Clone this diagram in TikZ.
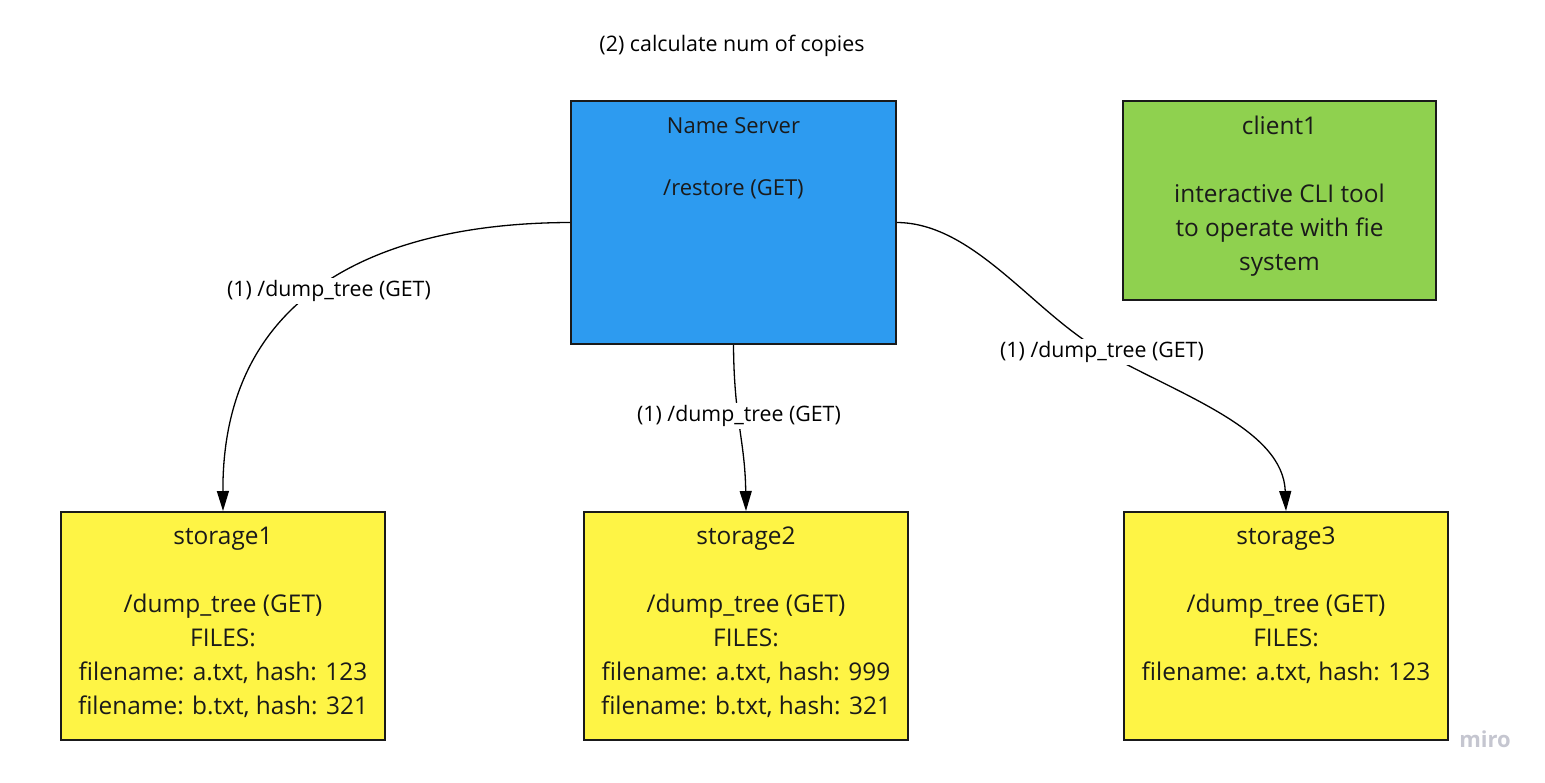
\documentclass[tikz,border=0pt]{standalone}
\usepackage{fontspec}
\setmainfont{Open Sans}
\usetikzlibrary{arrows.meta,calc}
\definecolor{nsblue}{HTML}{2D9BF0}
\definecolor{clgreen}{HTML}{8FD14F}
\definecolor{styellow}{HTML}{FEF445}
\definecolor{bord}{HTML}{1A1A1A}
\definecolor{txtc}{HTML}{1A1A1A}
\definecolor{mirogray}{HTML}{C5C6D0}
\tikzset{
  box/.style={draw=bord, line width=2.5pt, inner sep=0pt, outer sep=1pt},
  bigtxt/.style={text=txtc, align=center, inner sep=0pt, anchor=north, font=\fontsize{24.4}{34}\selectfont},
  midtxt/.style={text=txtc, align=center, inner sep=0pt, anchor=north, font=\fontsize{22}{31}\selectfont},
  elabel/.style={text=black, fill=white, inner sep=2pt, font=\fontsize{21.3}{25}\selectfont},
  conn/.style={draw=black, line width=1.3pt, -{Triangle[length=20pt,width=12pt]}},
}
\begin{document}
\begin{tikzpicture}[x=1pt,y=-1pt]
\useasboundingbox (0,0) rectangle (1545,782);
% boxes
\node[box, fill=nsblue, minimum width=325pt, minimum height=243pt] (ns) at (733.5,222.5) {};
\node[box, fill=clgreen, minimum width=313pt, minimum height=199pt] (cl) at (1279.5,200.5) {};
\node[box, fill=styellow, minimum width=324pt, minimum height=228pt] (s1) at (223,626) {};
\node[box, fill=styellow, minimum width=324pt, minimum height=228pt] (s2) at (746,626) {};
\node[box, fill=styellow, minimum width=324pt, minimum height=228pt] (s3) at (1286,626) {};
% texts in boxes
\node[midtxt] (nst) at ($(ns.north)+(0,17)$) {Name Server\\ \\ /restore (GET)};
\node[bigtxt] (clt) at ($(cl.north)+(0,15.5)$) {client1\\ \\ interactive CLI tool\\ to operate with fie\\ system};
\node[bigtxt] (s1t) at ($(s1.north)+(0,16)$) {storage1\\ \\ /dump\_tree (GET)\\ FILES:\\ filename: a.txt, hash: 123\\ filename: b.txt, hash: 321};
\node[bigtxt] (s2t) at ($(s2.north)+(0,16)$) {storage2\\ \\ /dump\_tree (GET)\\ FILES:\\ filename: a.txt, hash: 999\\ filename: b.txt, hash: 321};
\node[bigtxt] (s3t) at ($(s3.north)+(0,16)$) {storage3\\ \\ /dump\_tree (GET)\\ FILES:\\ filename: a.txt, hash: 123};
% title
\node[text=black, font=\fontsize{21.4}{25}\selectfont] (title) at (732,46) {(2) calculate num of copies};
% connectors
\draw[conn] (ns.west) .. controls (381,223) and (222,292) .. (s1.north);
\draw[conn] (ns.south) .. controls (734,420) and (745,440) .. (s2.north);
\coordinate (mid3) at (1105,353);
\draw[conn] (ns.east) .. controls (975,223) and (1035,315) .. (mid3) .. controls (1185,397) and (1283,430) .. (s3.north);
% edge labels
\node[elabel] (l1) at (329,291) {(1) /dump\_tree (GET)};
\node[elabel] (l2) at (739,416) {(1) /dump\_tree (GET)};
\node[elabel] (l3) at (1102,352) {(1) /dump\_tree (GET)};
% watermark
\node[text=mirogray, font=\fontsize{22}{26}\selectfont\bfseries] (miro) at (1485,739) {miro};
\end{tikzpicture}
\end{document}
